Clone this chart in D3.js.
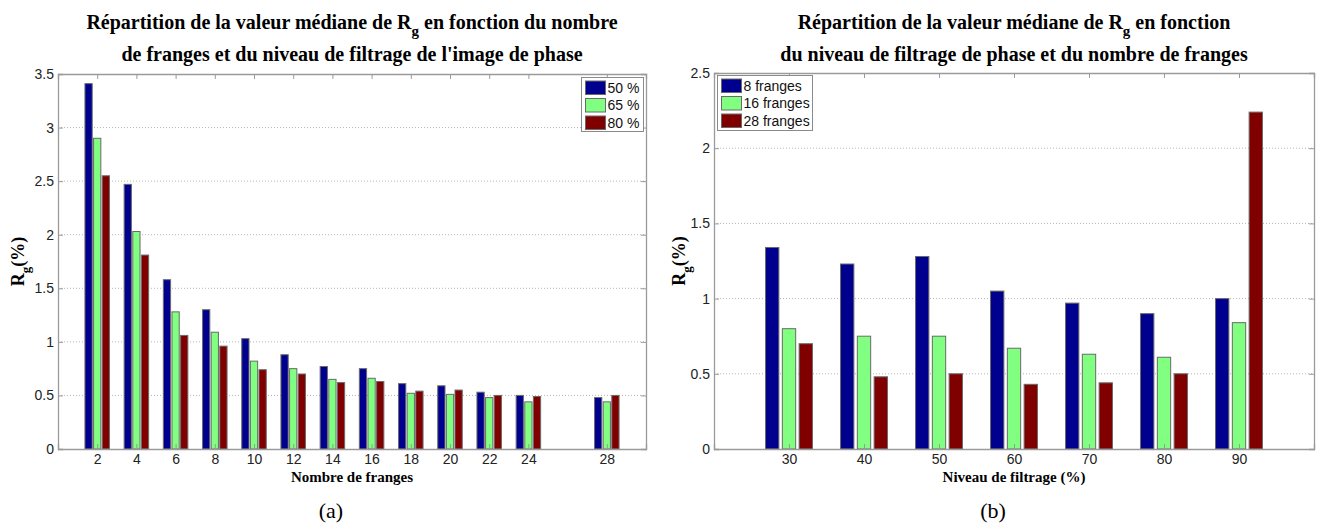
<!DOCTYPE html>
<html>
<head>
<meta charset="utf-8">
<script src="https://cdn.jsdelivr.net/npm/d3@7/dist/d3.min.js"></script>
<style>
  html, body { margin: 0; padding: 0; background: #fff; }
  svg { display: block; }
</style>
</head>
<body>
<svg id="fig" width="1319" height="523"></svg>
<script>
// Panel (a): median Rg vs number of fringes, for three filtering levels
const fringeCounts = [2, 4, 6, 8, 10, 12, 14, 16, 18, 20, 22, 24, 28];
const filterSeriesNames = ["50 %", "65 %", "80 %"];
const rg50 = [3.41, 2.47, 1.58, 1.30, 1.03, 0.88, 0.77, 0.75, 0.61, 0.59, 0.53, 0.50, 0.48];
const rg65 = [2.90, 2.03, 1.28, 1.09, 0.82, 0.75, 0.65, 0.66, 0.52, 0.51, 0.48, 0.44, 0.44];
const rg80 = [2.55, 1.81, 1.06, 0.96, 0.74, 0.70, 0.62, 0.63, 0.54, 0.55, 0.50, 0.49, 0.50];
const yTicksA = [0, 0.5, 1, 1.5, 2, 2.5, 3, 3.5];

// Panel (b): median Rg vs filtering level, for three fringe counts
const filterLevels = [30, 40, 50, 60, 70, 80, 90];
const fringeSeriesNames = ["8 franges", "16 franges", "28 franges"];
const rg8 = [1.34, 1.23, 1.28, 1.05, 0.97, 0.90, 1.00];
const rg16 = [0.80, 0.75, 0.75, 0.67, 0.63, 0.61, 0.84];
const rg28 = [0.70, 0.48, 0.50, 0.43, 0.44, 0.50, 2.24];
const yTicksB = [0, 0.5, 1, 1.5, 2, 2.5];

const barColors = ["#00008f", "#80ff80", "#800000"];

const svg = d3.select("#fig");
const serif = "'Liberation Serif', 'Times New Roman', serif";
const sans = "'Liberation Sans', Arial, sans-serif";

function drawPanel(cfg) {
  const { left, right, top, bottom } = cfg.box;
  const x = d3.scaleLinear().domain(cfg.xDomain).range([left, right]);
  const y = d3.scaleLinear().domain(cfg.yDomain).range([bottom, top]);
  const g = svg.append("g");

  // horizontal dotted grid
  g.selectAll("line.grid").data(cfg.yTicks.filter(v => v > cfg.yDomain[0] && v < cfg.yDomain[1]))
    .enter().append("line")
    .attr("x1", left).attr("x2", right)
    .attr("y1", d => y(d)).attr("y2", d => y(d))
    .attr("stroke", "#b4b4b4").attr("stroke-width", 1)
    .attr("stroke-dasharray", "1,2");

  // grouped bars
  cfg.series.forEach((vals, si) => {
    g.selectAll(null).data(vals).enter().append("rect")
      .attr("x", (d, i) => x(cfg.categories[i] + cfg.offsets[si] - cfg.barWidth / 2))
      .attr("width", x(cfg.xDomain[0] + cfg.barWidth) - x(cfg.xDomain[0]))
      .attr("y", d => y(d))
      .attr("height", d => y(0) - y(d))
      .attr("fill", barColors[si])
      .attr("stroke", "#6a6a6a").attr("stroke-width", 1);
  });

  // bottom axis with inward ticks, and matching ticks on top
  const xAxis = d3.axisBottom(x).tickValues(cfg.categories).tickSize(-5).tickPadding(10)
    .tickFormat(d3.format("d"));
  const gx = g.append("g").attr("transform", `translate(0,${bottom})`).call(xAxis);
  const xTop = d3.axisTop(x).tickValues(cfg.categories).tickSize(-5).tickFormat("");
  const gxt = g.append("g").attr("transform", `translate(0,${top})`).call(xTop);

  const yAxis = d3.axisLeft(y).tickValues(cfg.yTicks).tickSize(-5).tickPadding(4)
    .tickFormat(d => d3.format("")(d));
  const gy = g.append("g").attr("transform", `translate(${left},0)`).call(yAxis);
  const yRight = d3.axisRight(y).tickValues(cfg.yTicks).tickSize(-5).tickFormat("");
  const gyr = g.append("g").attr("transform", `translate(${right},0)`).call(yRight);

  [gx, gxt, gy, gyr].forEach(a => {
    a.select(".domain").attr("stroke", "#9a9a9a").attr("stroke-width", 1.3);
    a.selectAll(".tick line").attr("stroke", "#9a9a9a");
    a.selectAll(".tick text").attr("fill", "#222").style("font-family", sans).style("font-size", "14px");
  });
  gx.selectAll(".tick text").attr("y", 10).attr("dy", "0.35em");

  // title (two lines, with subscript g)
  const cx = (left + right) / 2;
  const t1 = g.append("text").attr("x", cx).attr("y", 29).attr("text-anchor", "middle")
    .style("font-family", serif).style("font-weight", "bold").style("font-size", "20px").attr("fill", "#000");
  t1.append("tspan").text(cfg.title1[0]);
  t1.append("tspan").attr("dy", 7).style("font-size", "15px").text("g");
  t1.append("tspan").attr("dy", -7).text(cfg.title1[1]);
  g.append("text").attr("x", cx).attr("y", 61).attr("text-anchor", "middle")
    .style("font-family", serif).style("font-weight", "bold").style("font-size", "20px")
    .text(cfg.title2);

  // y label R_g(%)
  const cy = (top + bottom) / 2;
  const yl = g.append("text").attr("transform", `translate(${cfg.yLabelX},${cy}) rotate(-90)`)
    .attr("text-anchor", "middle")
    .style("font-family", serif).style("font-weight", "bold").style("font-size", "18px");
  yl.append("tspan").text("R");
  yl.append("tspan").attr("dy", 6).style("font-size", "13px").text("g");
  yl.append("tspan").attr("dy", -6).text("(%)");

  // x label
  g.append("text").attr("x", cx).attr("y", 482).attr("text-anchor", "middle")
    .style("font-family", serif).style("font-weight", "bold").style("font-size", "15px")
    .text(cfg.xLabel);

  // panel caption
  g.append("text").attr("x", cx - 21).attr("y", 518).attr("text-anchor", "middle")
    .style("font-family", serif).style("font-size", "22px")
    .text(cfg.caption);

  // legend
  const L = cfg.legend;
  const lg = g.append("g");
  lg.append("rect").attr("x", L.x).attr("y", L.y).attr("width", L.w).attr("height", L.h)
    .attr("fill", "#fff").attr("stroke", "#8a8a8a").attr("stroke-width", 1);
  cfg.seriesNames.forEach((name, i) => {
    const ry = L.y + 3.5 + i * 17.5;
    lg.append("rect").attr("x", L.x + 4).attr("y", ry).attr("width", 20).attr("height", 13.5)
      .attr("fill", barColors[i]).attr("stroke", "#6a6a6a").attr("stroke-width", 1);
    lg.append("text").attr("x", L.x + 26).attr("y", ry + 7).attr("dy", "0.35em")
      .style("font-family", sans).style("font-size", "14px").attr("fill", "#111")
      .text(name);
  });
}

drawPanel({
  box: { left: 58, right: 646, top: 74, bottom: 449 },
  xDomain: [0, 30], yDomain: [0, 3.5],
  categories: fringeCounts,
  series: [rg50, rg65, rg80],
  seriesNames: filterSeriesNames,
  offsets: [-0.44, 0, 0.44], barWidth: 0.37,
  yTicks: yTicksA,
  title1: ["Répartition de la valeur médiane de R", " en fonction du nombre"],
  title2: "de franges et du niveau de filtrage de l'image de phase",
  xLabel: "Nombre de franges",
  yLabelX: 24,
  caption: "(a)",
  legend: { x: 581.5, y: 77.5, w: 62, h: 54 }
});

drawPanel({
  box: { left: 714, right: 1314, top: 73, bottom: 449 },
  xDomain: [20, 100], yDomain: [0, 2.5],
  categories: filterLevels,
  series: [rg8, rg16, rg28],
  seriesNames: fringeSeriesNames,
  offsets: [-2.24, 0, 2.24], barWidth: 1.78,
  yTicks: yTicksB,
  title1: ["Répartition de la valeur médiane de R", " en fonction"],
  title2: "du niveau de filtrage de phase et du nombre de franges",
  xLabel: "Niveau de filtrage (%)",
  yLabelX: 685,
  caption: "(b)",
  legend: { x: 717.5, y: 75.5, w: 95, h: 55 }
});
</script>
</body>
</html>
